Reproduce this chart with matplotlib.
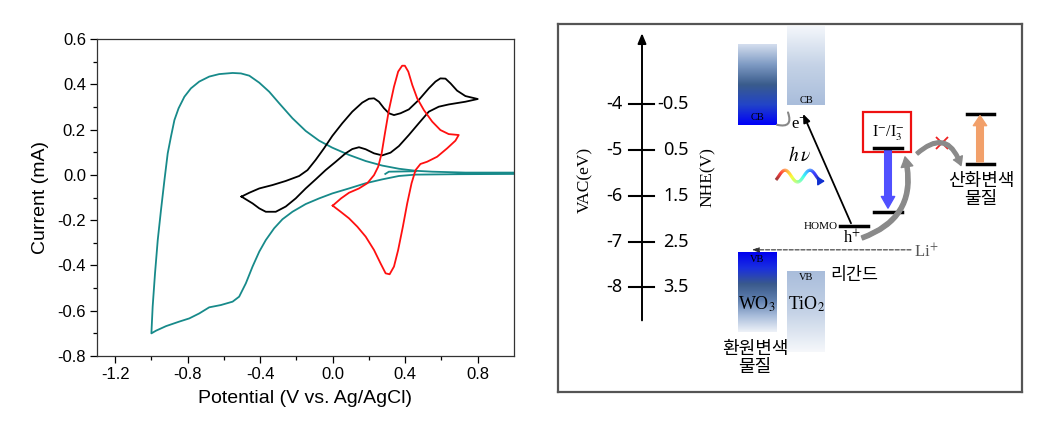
import numpy as np
import matplotlib.pyplot as plt
from matplotlib.colors import LinearSegmentedColormap
from matplotlib.collections import LineCollection
from matplotlib.patches import Rectangle

plt.rcParams['font.family'] = ['Liberation Sans', 'DejaVu Sans']
plt.rcParams['axes.unicode_minus'] = False
plt.rcParams['mathtext.fontset'] = 'stix'

# ---- cyclic voltammetry data (V vs Ag/AgCl, mA) ----
teal_x = [1.0, 0.732, 0.549, 0.457, 0.365, 0.273, 0.182, 0.09, -0.002, -0.075, -0.149,
          -0.222, -0.295, -0.35, -0.405, -0.46, -0.506, -0.552, -0.626, -0.681, -0.736,
          -0.782, -0.818, -0.85, -0.873, -0.892, -0.91, -0.928, -0.947, -0.965, -0.98,
          -0.993, -1.0,
          -0.974, -0.919, -0.846, -0.791, -0.736, -0.681, -0.617, -0.552, -0.516, -0.479,
          -0.442, -0.405, -0.369, -0.323, -0.277, -0.222, -0.149, -0.075, -0.002, 0.09,
          0.182, 0.273, 0.365, 0.457, 0.7, 1.0]
teal_y = [0.01, 0.01, 0.014, 0.018, 0.027, 0.041, 0.061, 0.088, 0.12, 0.151, 0.194,
          0.25, 0.316, 0.367, 0.407, 0.438, 0.448, 0.45, 0.445, 0.434, 0.412,
          0.382, 0.345, 0.294, 0.242, 0.169, 0.095, -0.023, -0.155, -0.288, -0.435,
          -0.582, -0.70,
          -0.688, -0.668, -0.648, -0.634, -0.612, -0.585, -0.575, -0.56, -0.538, -0.479,
          -0.405, -0.339, -0.288, -0.236, -0.196, -0.163, -0.129, -0.104, -0.082, -0.06,
          -0.037, -0.02, -0.005, 0.001, 0.003, 0.004]
teal_start_x = [0.29, 0.31, 0.46]
teal_start_y = [0.004, 0.014, 0.016]

black_x = [-0.503, -0.46, -0.405, -0.332, -0.259, -0.185, -0.139, -0.094, -0.048, -0.002,
           0.053, 0.108, 0.163, 0.2, 0.228, 0.255, 0.283, 0.31, 0.338, 0.374, 0.42,
           0.475, 0.53, 0.567, 0.594, 0.622, 0.65, 0.686, 0.732, 0.8,
           0.732, 0.64, 0.585, 0.53, 0.475, 0.42, 0.365, 0.319, 0.273, 0.228, 0.182,
           0.145, 0.108, 0.071, 0.017, -0.039, -0.094, -0.149, -0.204, -0.259, -0.314,
           -0.369, -0.405, -0.442, -0.479, -0.503]
black_y = [-0.096, -0.079, -0.06, -0.045, -0.027, -0.005, 0.021, 0.066, 0.117, 0.172,
           0.228, 0.279, 0.319, 0.336, 0.338, 0.323, 0.294, 0.272, 0.264, 0.272, 0.289,
           0.331, 0.382, 0.412, 0.426, 0.425, 0.404, 0.372, 0.348, 0.335,
           0.323, 0.311, 0.301, 0.279, 0.228, 0.176, 0.127, 0.098, 0.086, 0.095, 0.113,
           0.122, 0.114, 0.095, 0.058, 0.021, -0.02, -0.06, -0.104, -0.14, -0.163,
           -0.163, -0.148, -0.126, -0.108, -0.096]

red_x = [0.0, 0.046, 0.09, 0.145, 0.191, 0.228, 0.251, 0.27, 0.288, 0.31, 0.338, 0.361,
         0.383, 0.398, 0.417, 0.439, 0.466, 0.503, 0.549, 0.594, 0.64, 0.695,
         0.677, 0.631, 0.576, 0.521, 0.484, 0.457, 0.435, 0.411, 0.387, 0.361, 0.338,
         0.314, 0.292, 0.264, 0.228, 0.182, 0.136, 0.09, 0.044, 0.0]
red_y = [-0.136, -0.104, -0.079, -0.06, -0.037, -0.001, 0.036, 0.095, 0.183, 0.286,
         0.389, 0.456, 0.482, 0.482, 0.456, 0.397, 0.338, 0.286, 0.235, 0.198, 0.18,
         0.176,
         0.151, 0.117, 0.08, 0.058, 0.048, 0.021, -0.037, -0.126, -0.229, -0.332,
         -0.405, -0.439, -0.435, -0.391, -0.332, -0.273, -0.229, -0.192, -0.163, -0.136]

# ---- energy diagram data (eV vs vacuum) ----
vac_ticks = [-4, -5, -6, -7, -8]
nhe_labels = ['-0.5', '0.5', '1.5', '2.5', '3.5']
wo3_cb, wo3_vb = -4.45, -7.23
tio2_cb, tio2_vb = -4.02, -7.66
homo = -6.66
redox_top, redox_bottom = -4.96, -6.35
ox_top, ox_bottom = -4.21, -5.31
li_level = -7.18

fig = plt.figure(figsize=(10.42, 4.24), dpi=100)

# ================= left: CV plot =================
ax = fig.add_axes([97/1042, 68/424, 417/1042, 317/424])
teal = '#178a8a'
ax.plot(teal_x, teal_y, color=teal, lw=1.3)
ax.plot(teal_start_x, teal_start_y, color=teal, lw=1.3)
ax.plot(black_x, black_y, color='black', lw=1.3)
ax.plot(red_x, red_y, color='#ff1010', lw=1.3)
ax.set_xlim(-1.3, 1.0)
ax.set_ylim(-0.8, 0.6)
ax.set_xticks([-1.2, -0.8, -0.4, 0.0, 0.4, 0.8])
ax.set_xticks(np.arange(-1.2, 1.0, 0.2), minor=True)
ax.set_yticks(np.arange(-0.8, 0.61, 0.2))
ax.set_yticks(np.arange(-0.8, 0.61, 0.1), minor=True)
fmt = plt.FuncFormatter(lambda v, p: f'{v:.1f}'.replace('-0.0', '0.0'))
ax.xaxis.set_major_formatter(fmt)
ax.yaxis.set_major_formatter(fmt)
ax.tick_params(which='major', length=5, width=0.9, labelsize=12, pad=3)
ax.tick_params(which='minor', length=3, width=0.9)
for s in ax.spines.values():
    s.set_linewidth(0.9)
    s.set_color('#333333')
ax.set_xlabel('Potential (V vs. Ag/AgCl)', fontsize=14, labelpad=6)
ax.set_ylabel('Current (mA)', fontsize=14, labelpad=6)

# ================= right: energy diagram =================
ax2 = fig.add_axes([558/1042, 32/424, 464/1042, 368/424])
serif = 'Liberation Serif'
kr = 'Noto Sans CJK KR'


def grad_box(x0, x1, y0, y1, colors):
    cmap = LinearSegmentedColormap.from_list('g', colors)
    g = np.linspace(0, 1, 256).reshape(-1, 1)
    ax2.imshow(g, extent=[x0, x1, y0, y1], origin='lower', aspect='auto',
               cmap=cmap, interpolation='bilinear', zorder=1)


# WO3 bands (bottom -> top colors)
grad_box(738, 777, wo3_cb, -2.69, ['#0000f8', '#2244c8', '#3a5c8c', '#7f9bc4', '#d4deee'])
grad_box(738, 777, -8.97, wo3_vb, ['#eef2f8', '#a9bddb', '#5f7fae', '#3a5a8c', '#1a2fe0', '#0000f0'])
# TiO2 bands
grad_box(787, 825, tio2_cb, -2.31, ['#a9bddb', '#c4d2e6', '#f4f7fb'])
grad_box(787, 825, -9.41, tio2_vb, ['#f6f8fb', '#c4d2e6', '#a9bddb'])

ax2.text(757, -4.30, 'CB', family=serif, fontsize=7.5, ha='center', va='center', zorder=3)
ax2.text(806, -3.91, 'CB', family=serif, fontsize=7.5, ha='center', va='center', zorder=3)
ax2.text(757, -7.40, 'VB', family=serif, fontsize=7.5, ha='center', va='center', zorder=3)
ax2.text(806, -7.79, 'VB', family=serif, fontsize=7.5, ha='center', va='center', zorder=3)
ax2.text(757, -8.36, r'WO$_3$', family=serif, fontsize=13, ha='center', va='center', zorder=3)
ax2.text(807, -8.36, r'TiO$_2$', family=serif, fontsize=13, ha='center', va='center', zorder=3)
ax2.text(755, -9.55, '환원변색\n물질', family=kr, fontsize=13, ha='center', va='center',
         linespacing=1.0)
ax2.text(854, -7.72, '리간드', family=kr, fontsize=12.5, ha='center', va='center')

# energy scale
ax2.annotate('', xy=(642, -2.45), xytext=(642, -8.72),
             arrowprops=dict(arrowstyle='-|>,head_length=0.6,head_width=0.25',
                             color='black', lw=1.4, shrinkA=0, shrinkB=0))
for v, lab in zip(vac_ticks, nhe_labels):
    ax2.plot([629, 654], [v, v], color='black', lw=1.5)
    ax2.text(622, v, str(v), family='Noto Sans', fontsize=13, ha='right', va='center')
    ax2.text(689, v, lab, family='Noto Sans', fontsize=13, ha='right', va='center')
ax2.text(585, -5.65, 'VAC(eV)', family=serif, fontsize=12.5, rotation=90, ha='center', va='center')
ax2.text(708, -5.60, 'NHE(V)', family=serif, fontsize=12.5, rotation=90, ha='center', va='center')

# electron transfer hook and excitation
ax2.annotate('', xy=(788, -4.18), xytext=(777, -4.45),
             arrowprops=dict(arrowstyle='-', color='#888888', lw=1.5,
                             connectionstyle='arc3,rad=0.9', shrinkA=0, shrinkB=0))
ax2.text(799, -4.45, r'e$^{-}$', family=serif, fontsize=12, ha='center', va='center')
ax2.annotate('', xy=(803, -4.21), xytext=(851, -6.60),
             arrowprops=dict(arrowstyle='-|>,head_length=0.5,head_width=0.2',
                             color='black', lw=1.3, shrinkA=0, shrinkB=0))
ax2.text(800, -5.12, r'$h\,\nu$', fontsize=14, ha='center', va='center')

# rainbow wave
wx = np.linspace(776, 820, 120)
wy = -5.57 - 0.13 * np.cos(2 * np.pi * (wx - 772.5) / 25)
pts = np.column_stack([wx, wy]).reshape(-1, 1, 2)
segs = np.concatenate([pts[:-1], pts[1:]], axis=1)
lc = LineCollection(segs, cmap='jet_r', lw=2.2, zorder=3)
lc.set_array(np.linspace(0, 1, len(segs)))
ax2.add_collection(lc)
ax2.annotate('', xy=(825, -5.68), xytext=(819, -5.68),
             arrowprops=dict(arrowstyle='-|>,head_length=0.4,head_width=0.25',
                             color='#1030d0', lw=1.2, shrinkA=0, shrinkB=0))

# HOMO level
ax2.plot([840, 868], [homo, homo], color='black', lw=2.5)
ax2.text(838, homo, 'HOMO', family=serif, fontsize=8, ha='right', va='center')
ax2.text(852, -6.93, r'h$^{+}$', family=serif, fontsize=12, ha='center', va='center')

# Li+ dashed arrow
ax2.annotate('', xy=(752, li_level), xytext=(911, li_level),
             arrowprops=dict(arrowstyle='-|>,head_length=0.4,head_width=0.15',
                             color='#333333', lw=0.8, ls='--', shrinkA=0, shrinkB=0))
ax2.text(914, li_level - 0.05, r'Li$^{+}$', family=serif, fontsize=12, color='#555555',
         ha='left', va='center')

# redox couple box
ax2.add_patch(Rectangle((863, -5.04), 48, 0.87, fill=False, ec='#ee1111', lw=1.6, zorder=3))
ax2.text(888, -4.63, r'I$^{-}$/I$_3^{-}$', family=serif, fontsize=11.5, ha='center', va='center')
ax2.plot([874, 902], [redox_top, redox_top], color='black', lw=2.5, zorder=4)
ax2.plot([874, 902], [redox_bottom, redox_bottom], color='black', lw=2.5)
ax2.annotate('', xy=(888, redox_bottom + 0.08), xytext=(888, redox_top - 0.04),
             arrowprops=dict(arrowstyle='simple,head_length=0.7,head_width=0.8,tail_width=0.4',
                             color='#5050ff', mutation_scale=12, shrinkA=0, shrinkB=0))

# gray curved arrows
ax2.annotate('', xy=(905, -5.15), xytext=(862, -6.92),
             arrowprops=dict(arrowstyle='simple,head_length=0.6,head_width=0.7,tail_width=0.25',
                             color='#8a8a8a', mutation_scale=12, shrinkA=0, shrinkB=0,
                             connectionstyle='arc3,rad=0.45'))
ax2.annotate('', xy=(961, -5.34), xytext=(917, -5.08),
             arrowprops=dict(arrowstyle='simple,head_length=0.6,head_width=0.7,tail_width=0.25',
                             color='#8a8a8a', mutation_scale=10, shrinkA=0, shrinkB=0,
                             connectionstyle='arc3,rad=-0.75'))
ax2.plot([942], [-4.85], marker='x', color='#ee2222', markersize=9, mew=1.3)

# oxidative chromic material
ax2.plot([967, 994], [ox_top, ox_top], color='black', lw=2.5)
ax2.plot([967, 994], [ox_bottom, ox_bottom], color='black', lw=2.5)
ax2.annotate('', xy=(980, ox_top - 0.04), xytext=(980, ox_bottom + 0.05),
             arrowprops=dict(arrowstyle='simple,head_length=0.6,head_width=0.8,tail_width=0.4',
                             color='#f2a06a', mutation_scale=12, shrinkA=0, shrinkB=0))
ax2.text(981, -5.88, '산화변색\n물질', family=kr, fontsize=13, ha='center', va='center',
         linespacing=1.0)

ax2.set_xlim(558, 1022)
ax2.set_ylim(-10.284, -2.249)
ax2.set_xticks([])
ax2.set_yticks([])
for s in ax2.spines.values():
    s.set_linewidth(1.6)
    s.set_color('#555555')

fig.savefig('out.png', dpi=100)
